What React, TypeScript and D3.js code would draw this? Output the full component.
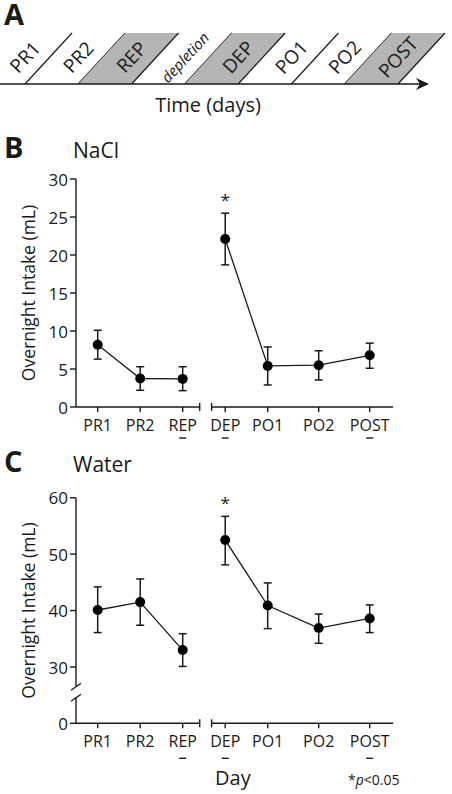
import React from "react";
import * as d3 from "d3";

// ---- Data ----
const stages = ["PR1", "PR2", "REP", "depletion", "DEP", "PO1", "PO2", "POST"];
const stageShaded = [false, false, true, false, true, false, false, true];

const days = ["PR1", "PR2", "REP", "DEP", "PO1", "PO2", "POST"];
const dayPos = [0, 1, 2, 3, 4, 5.2, 6.4];
const dayUnderlined = [false, false, true, true, false, false, true];
const daySignificant = [false, false, false, true, false, false, false];
const dayGroup = [0, 0, 0, 1, 1, 1, 1];

const naclMean = [8.2, 3.75, 3.7, 22.1, 5.4, 5.5, 6.8];
const naclUpper = [10.1, 5.3, 5.3, 25.5, 7.9, 7.4, 8.4];
const naclLower = [6.3, 2.2, 2.15, 18.7, 2.9, 3.55, 5.1];
const naclTicks = [0, 5, 10, 15, 20, 25, 30];

const waterMean = [40.1, 41.5, 33.0, 52.5, 40.9, 36.9, 38.6];
const waterUpper = [44.2, 45.6, 35.9, 56.7, 44.9, 39.4, 41.0];
const waterLower = [36.1, 37.4, 30.1, 48.1, 36.8, 34.2, 36.1];
const waterTicks = [0, 30, 40, 50, 60];

// ---- Layout ----
const W = 452;
const H = 794;
const FONT = "'Open Sans', sans-serif";
const INK = "#1a1a1a";
const yAxisX = 76;
const xScale = d3.scaleLinear().domain([0, 1]).range([97.7, 140.2]);
const leftSegEnd = 2.4;
const rightSegStart = 2.68;
const rightSegEnd = 6.95;

function Timeline() {
  const timeY = 84;
  const topY = 33;
  const dx = 47;
  const band = d3.scaleBand<string>().domain(stages).range([-28.3, 398]);
  const bw = band.bandwidth();
  return (
    <g>
      {stages.map((s, i) => {
        const x0 = band(s)!;
        const x1 = x0 + bw;
        return (
          <g key={s}>
            {stageShaded[i] && (
              <polygon
                points={`${x0},${timeY} ${x1},${timeY} ${x1 + dx},${topY} ${x0 + dx},${topY}`}
                fill="#b5b5b5"
              />
            )}
            <line x1={x1} y1={timeY} x2={x1 + dx} y2={topY} stroke={INK} strokeWidth={1.2} />
            <text
              transform={`translate(${x0 + bw / 2 + dx / 2 + 3},57) rotate(-47)`}
              textAnchor="middle"
              dominantBaseline="central"
              fontFamily={FONT}
              fontSize={s === "depletion" ? 15 : 19}
              fontStyle={s === "depletion" ? "italic" : "normal"}
              fill={INK}
            >
              {s}
            </text>
          </g>
        );
      })}
      <line x1={0} y1={timeY} x2={422} y2={timeY} stroke={INK} strokeWidth={1.4} />
      <path d={`M429,${timeY} L416,${timeY - 6} L420,${timeY} L416,${timeY + 6} Z`} fill={INK} />
      <text x={208} y={112} textAnchor="middle" fontFamily={FONT} fontSize={20} fill={INK}>
        Time (days)
      </text>
      <text x={4} y={25} fontFamily={FONT} fontWeight="bold" fontSize={29} fill={INK}>
        A
      </text>
    </g>
  );
}

type PanelProps = {
  letter: string;
  title: string;
  titleY: number;
  mean: number[];
  upper: number[];
  lower: number[];
  ticks: number[];
  yScale: d3.ScaleLinear<number, number>;
  base: number;
  broken: boolean;
  dashOffset: number;
};

function Panel(p: PanelProps) {
  const yPos = (v: number) => (p.broken && v === 0 ? p.base : p.yScale(v));
  const top = p.yScale(p.yScale.domain()[1]);
  const base = p.base;
  const groups = d3.groups(
    days.map((d, i) => ({ d, i })),
    (o) => dayGroup[o.i]
  );
  const line = d3
    .line<{ d: string; i: number }>()
    .x((o) => xScale(dayPos[o.i]))
    .y((o) => p.yScale(p.mean[o.i]));
  const breakTop = base - 37;
  const breakBot = base - 26;
  return (
    <g>
      <text x={4} y={p.titleY} fontFamily={FONT} fontWeight="bold" fontSize={29} fill={INK}>
        {p.letter}
      </text>
      <text x={73} y={p.titleY} fontFamily={FONT} fontSize={21} fill={INK}>
        {p.title}
      </text>
      {/* y axis */}
      {p.broken ? (
        <g stroke={INK} strokeWidth={1.4}>
          <line x1={yAxisX} y1={top} x2={yAxisX} y2={breakTop} />
          <line x1={yAxisX} y1={breakBot} x2={yAxisX} y2={base} />
          <line x1={yAxisX - 5} y1={breakTop + 4} x2={yAxisX + 5} y2={breakTop - 3} />
          <line x1={yAxisX - 5} y1={breakBot + 4} x2={yAxisX + 5} y2={breakBot - 3} />
        </g>
      ) : (
        <line x1={yAxisX} y1={top} x2={yAxisX} y2={base} stroke={INK} strokeWidth={1.4} />
      )}
      {p.ticks.map((t) => (
        <g key={t}>
          <line x1={yAxisX - 6} x2={yAxisX} y1={yPos(t)} y2={yPos(t)} stroke={INK} strokeWidth={1.4} />
          <text
            x={yAxisX - 8}
            y={yPos(t)}
            textAnchor="end"
            dominantBaseline="central"
            fontFamily={FONT}
            fontSize={17}
            fill={INK}
          >
            {t}
          </text>
        </g>
      ))}
      <text
        transform={`translate(28,${(top + base) / 2}) rotate(-90)`}
        textAnchor="middle"
        dominantBaseline="central"
        fontFamily={FONT}
        fontSize={17.5}
        fill={INK}
      >
        Overnight Intake (mL)
      </text>
      {/* x axis, broken */}
      <g stroke={INK} strokeWidth={1.4}>
        <line x1={yAxisX} x2={xScale(leftSegEnd)} y1={base} y2={base} />
        <line x1={xScale(leftSegEnd)} x2={xScale(leftSegEnd)} y1={base - 4} y2={base + 4} />
        <line x1={xScale(rightSegStart)} x2={xScale(rightSegEnd)} y1={base} y2={base} />
        <line x1={xScale(rightSegStart)} x2={xScale(rightSegStart)} y1={base - 4} y2={base + 4} />
      </g>
      {days.map((d, i) => {
        const x = xScale(dayPos[i]);
        return (
          <g key={d}>
            <line x1={x} x2={x} y1={base} y2={base + 5} stroke={INK} strokeWidth={1.4} />
            <text x={x} y={base + 24} textAnchor="middle" fontFamily={FONT} fontSize={16} fill={INK}>
              {d}
            </text>
            {dayUnderlined[i] && (
              <line
                x1={x - 3.5}
                x2={x + 3.5}
                y1={base + p.dashOffset}
                y2={base + p.dashOffset}
                stroke={INK}
                strokeWidth={1.4}
              />
            )}
          </g>
        );
      })}
      {/* lines */}
      {groups.map(([g, pts]) => (
        <path key={g} d={line(pts)!} fill="none" stroke={INK} strokeWidth={1.3} />
      ))}
      {/* error bars & dots */}
      {days.map((d, i) => {
        const x = xScale(dayPos[i]);
        const yu = p.yScale(p.upper[i]);
        const yl = p.yScale(p.lower[i]);
        return (
          <g key={d}>
            <g stroke={INK} strokeWidth={1.5}>
              <line x1={x} x2={x} y1={yu} y2={yl} />
              <line x1={x - 4} x2={x + 4} y1={yu} y2={yu} />
              <line x1={x - 4} x2={x + 4} y1={yl} y2={yl} />
            </g>
            <circle cx={x} cy={p.yScale(p.mean[i])} r={5} fill="#000" />
            {daySignificant[i] && (
              <text x={x} y={yu - 7} textAnchor="middle" fontFamily={FONT} fontSize={17} fill={INK}>
                *
              </text>
            )}
          </g>
        );
      })}
    </g>
  );
}

export default function App() {
  const naclY = d3.scaleLinear().domain([0, 30]).range([407, 179]);
  const waterY = d3.scaleLinear().domain([30, 60]).range([667, 497.7]);
  return (
    <svg
      width={W}
      height={H}
      viewBox={`0 0 ${W} ${H}`}
      style={{ position: "absolute", left: 0, top: 0, background: "#fff" }}
    >
      <rect width={W} height={H} fill="#fff" />
      <Timeline />
      <Panel
        letter="B"
        title="NaCl"
        titleY={158}
        mean={naclMean}
        upper={naclUpper}
        lower={naclLower}
        ticks={naclTicks}
        yScale={naclY}
        base={407}
        broken={false}
        dashOffset={31}
      />
      <Panel
        letter="C"
        title="Water"
        titleY={472}
        mean={waterMean}
        upper={waterUpper}
        lower={waterLower}
        ticks={waterTicks}
        yScale={waterY}
        base={723.3}
        broken={true}
        dashOffset={35}
      />
      <text x={215} y={785} fontFamily={FONT} fontSize={20} fill={INK}>
        Day
      </text>
      <text x={348} y={785} fontFamily={FONT} fontSize={14} fill={INK}>
        *<tspan fontStyle="italic">p</tspan>&lt;0.05
      </text>
    </svg>
  );
}
